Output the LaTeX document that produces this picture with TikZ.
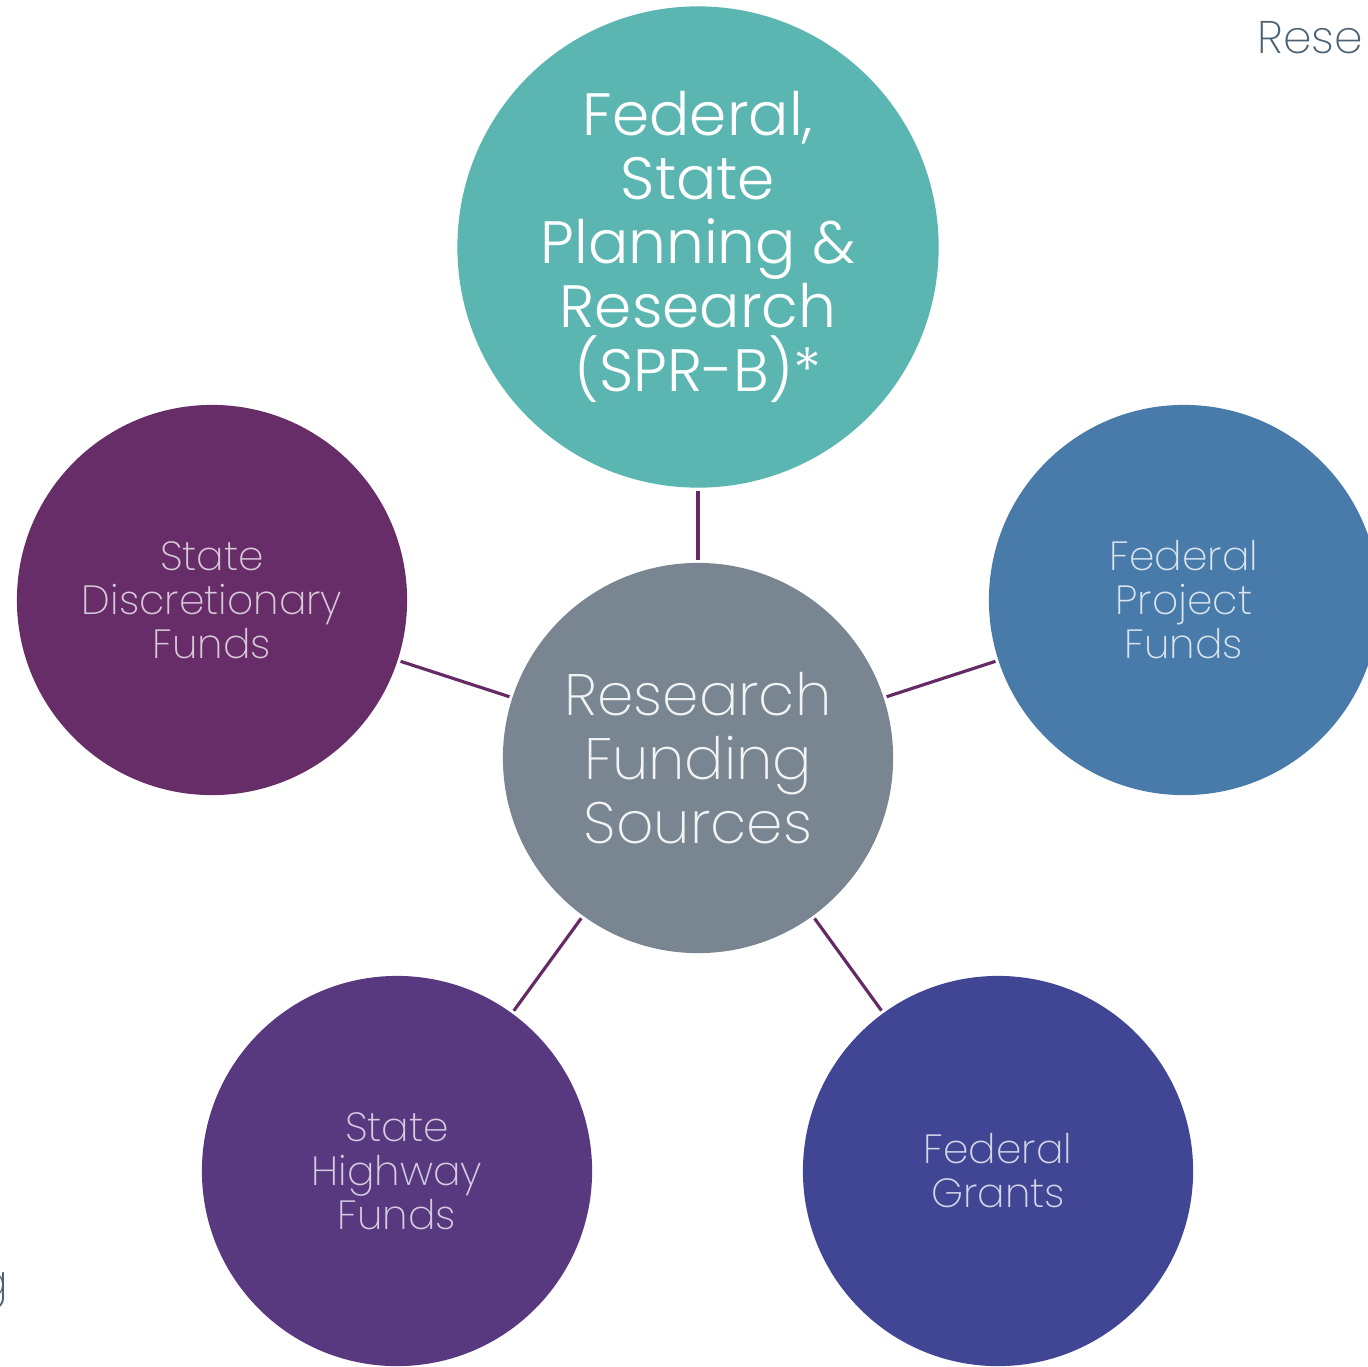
\documentclass[tikz,border=0pt]{standalone}
\usepackage{fontspec}
\setmainfont{Poppins}[UprightFont=* ExtraLight]
\newfontfamily\slidefont{Poppins}[UprightFont=* Light]
\definecolor{sprteal}{HTML}{5BB6B2}
\definecolor{srcgray}{HTML}{798591}
\definecolor{discpurple}{HTML}{662D68}
\definecolor{projblue}{HTML}{487BA9}
\definecolor{hwyviolet}{HTML}{58387F}
\definecolor{grantindigo}{HTML}{414694}
\definecolor{linkpurple}{HTML}{652A66}
\definecolor{slidegray}{HTML}{4C6272}
\begin{document}
\begin{tikzpicture}[x=0.01cm,y=-0.01cm,
  big/.style={circle,inner sep=0pt,align=center},
  fund/.style={circle,inner sep=0pt,minimum size=3.9cm,align=center,font=\fontsize{11.6}{12.5}\selectfont},
  link/.style={draw=linkpurple,line width=0.9pt,shorten <=0.7pt,shorten >=0.7pt}]
\useasboundingbox (0,0) rectangle (1368,1366);
\node[big,minimum size=4.81cm,fill=sprteal,text=white,font=\slidefont\fontsize{17}{18.2}\selectfont] (spr) at (698,247) {Federal,\\State\\Planning \&\\Research\\(SPR-B)*};
\node[big,minimum size=3.9cm,fill=srcgray,text=white!90!srcgray,font=\fontsize{16.6}{18.2}\selectfont] (src) at (698,758) {Research\\Funding\\Sources};
\node[fund,fill=discpurple,text=white!75!discpurple] (disc) at (212,600) {State\\Discretionary\\Funds};
\node[fund,fill=projblue,text=white!80!projblue] (proj) at (1184,600) {Federal\\Project\\Funds};
\node[fund,fill=hwyviolet,text=white!75!hwyviolet] (hwy) at (397,1171) {State\\Highway\\Funds};
\node[fund,fill=grantindigo,text=white!78!grantindigo] (grants) at (998,1171) {Federal\\Grants};
\foreach \f in {spr,disc,proj,hwy,grants}
\draw[link] (src) -- (\f);
% fragments of the slide behind
\node[anchor=base west,inner sep=0pt,text=slidegray,font=\fontsize{13}{15}\selectfont] (rese) at (1257,53) {Rese};
\node[anchor=base east,inner sep=0pt,text=slidegray,font=\fontsize{13}{15}\selectfont] (gtail) at (9,1297) {g};
\end{tikzpicture}
\end{document}
